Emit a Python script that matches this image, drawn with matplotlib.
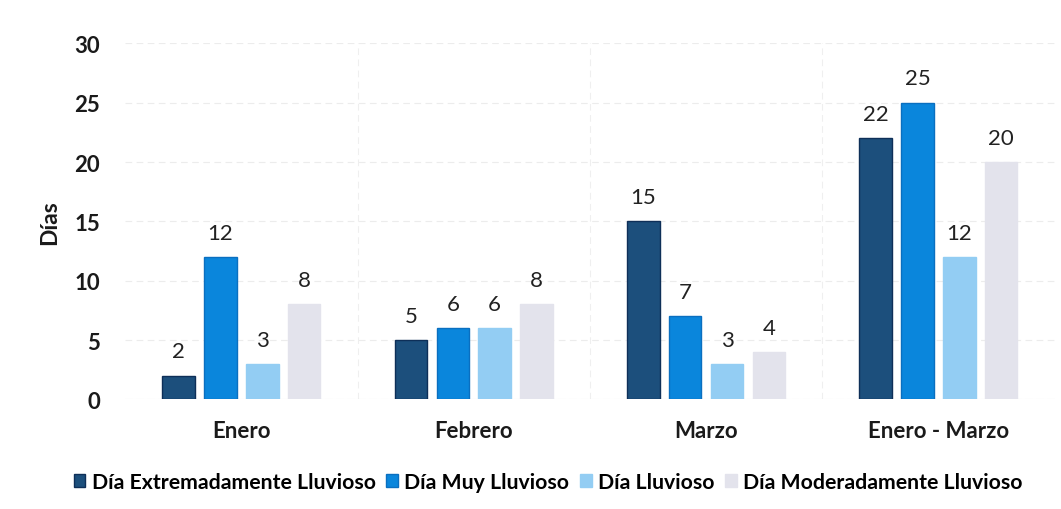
import numpy as np
import matplotlib.pyplot as plt

# Data
categories = ['Enero', 'Febrero', 'Marzo', 'Enero - Marzo']
series = ['Día Extremadamente Lluvioso', 'Día Muy Lluvioso', 'Día Lluvioso', 'Día Moderadamente Lluvioso']
extremo = [2, 5, 15, 22]
muy = [12, 6, 7, 25]
lluvioso = [3, 6, 3, 12]
moderado = [8, 8, 4, 20]

values = [extremo, muy, lluvioso, moderado]
colors = ['#1c4f7c', '#0a86dc', '#93cdf3', '#e3e3ec']
edges = ['#0e2f58', '#0a6fc0', '#93cdf3', '#e3e3ec']

plt.rcParams['font.family'] = ['Lato', 'DejaVu Sans']

fig = plt.figure(figsize=(10.61, 5.10), dpi=100)
ax = fig.add_axes([0.118, 0.215, 0.876, 0.698])

x = np.arange(len(categories))
w = 0.14
step = 0.18
for i, (vals, c, ec) in enumerate(zip(values, colors, edges)):
    pos = x + (i - 1.5) * step
    ax.bar(pos, vals, w, color=c, edgecolor=ec, linewidth=1, label=series[i], zorder=3)
    for p, v in zip(pos, vals):
        ax.text(p, v + 1.2, str(v), ha='center', va='bottom', fontsize=16, color='#222222')

ax.set_xlim(-0.5, len(categories) - 0.5)
ax.set_ylim(0, 30)
ax.set_yticks(range(0, 31, 5))
ax.set_xticks(x)
ax.set_xticklabels(categories, fontsize=16, fontweight='bold', color='#1a1a1a')
ax.tick_params(axis='y', labelsize=16, length=0, pad=18, labelcolor='#1a1a1a')
ax.tick_params(axis='x', length=0, pad=15)
for lab in ax.get_yticklabels():
    lab.set_fontweight('bold')
ax.set_ylabel('Días', fontsize=16.5, fontweight='bold', labelpad=10, color='#1a1a1a')

ax.grid(axis='y', color='#ececec', linestyle=(0, (6, 4)), linewidth=0.8, zorder=0)
for b in np.arange(0.5, len(categories) - 0.5, 1):
    ax.axvline(b, color='#efefef', linestyle=(0, (6, 4)), linewidth=0.8, zorder=0)
for s in ax.spines.values():
    s.set_visible(False)
ax.axhline(0, color='#eeeeee', linewidth=0.8, zorder=1)

ax.legend(loc='upper center', bbox_to_anchor=(0.455, -0.15), ncol=4, frameon=False,
          prop={'family': 'Lato', 'weight': 'bold', 'size': 15.3},
          handlelength=0.55, handleheight=0.55, handletextpad=0.3, columnspacing=0.5)

fig.savefig('out.png', dpi=100)
